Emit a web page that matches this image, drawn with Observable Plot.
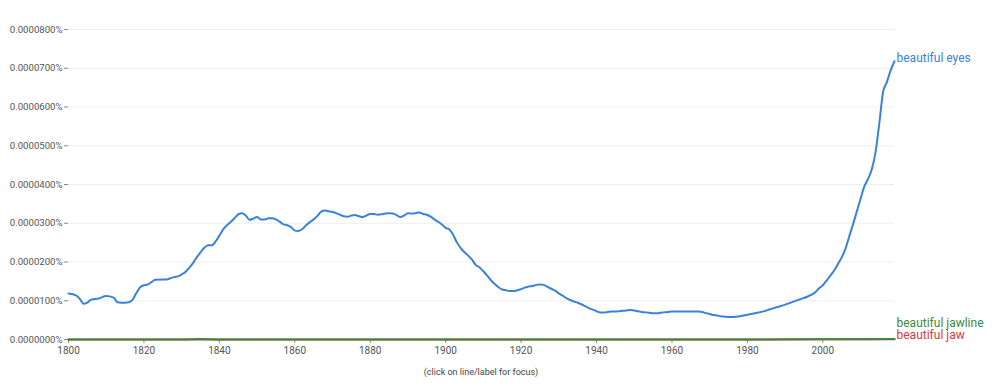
<!DOCTYPE html>
<html>
<head>
<meta charset="utf-8">
<script src="https://cdn.jsdelivr.net/npm/d3@7"></script>
<script src="https://cdn.jsdelivr.net/npm/@observablehq/plot@0.6"></script>
<style>
  html, body { margin: 0; padding: 0; background: #fff; }
  #chart { width: 1000px; }
  #caption { width: 962px; text-align: center; font: 9px Roboto, sans-serif; color: #444; line-height: 20px; }
</style>
</head>
<body>
<div id="chart"></div>
<div id="caption">(click on line/label for focus)</div>
<script>
// Series names
const seriesNames = ["beautiful eyes", "beautiful jawline", "beautiful jaw"];
const seriesColors = ["#3a82d8", "#3a8a3c", "#d93a3e"];

// beautiful eyes (values in %, unit 1e-5 %)
const eyesYears = [1800,1802,1803,1804,1805,1806,1808,1810,1812,1813,1814,1815,1816,1817,1818,1819,1820,1821,1822,1823,1825,1826,1827,1828,1829,1830,1831,1832,1833,1834,1835,1836,1837,1838,1839,1840,1841,1842,1843,1844,1845,1846,1847,1848,1849,1850,1851,1852,1853,1854,1855,1856,1857,1858,1859,1860,1861,1862,1863,1864,1865,1866,1867,1868,1869,1870,1871,1872,1873,1874,1875,1876,1877,1878,1879,1880,1881,1882,1883,1884,1885,1886,1887,1888,1889,1890,1891,1892,1893,1894,1895,1896,1897,1898,1899,1900,1901,1902,1903,1904,1905,1906,1907,1908,1909,1910,1911,1912,1913,1914,1915,1916,1917,1918,1919,1920,1921,1922,1923,1924,1925,1926,1927,1928,1929,1930,1931,1932,1933,1934,1935,1936,1937,1938,1939,1940,1941,1942,1943,1944,1945,1946,1947,1948,1949,1950,1951,1952,1953,1954,1955,1956,1957,1958,1959,1960,1961,1962,1963,1964,1965,1966,1967,1968,1969,1970,1971,1972,1973,1974,1975,1976,1977,1978,1979,1980,1982,1984,1986,1988,1990,1992,1994,1996,1998,1999,2000,2001,2002,2003,2004,2005,2006,2007,2008,2009,2010,2011,2012,2013,2014,2015,2016,2017,2018,2019];
const eyesValues = [1.19,1.14,1.05,0.92,0.95,1.03,1.06,1.12,1.08,0.96,0.95,0.95,0.96,1.03,1.20,1.35,1.40,1.42,1.48,1.54,1.55,1.55,1.58,1.61,1.63,1.68,1.74,1.85,1.97,2.12,2.25,2.37,2.43,2.43,2.53,2.68,2.84,2.95,3.03,3.13,3.23,3.26,3.20,3.09,3.12,3.16,3.10,3.10,3.13,3.13,3.10,3.04,2.97,2.95,2.90,2.81,2.80,2.85,2.95,3.03,3.10,3.19,3.30,3.33,3.31,3.29,3.26,3.22,3.18,3.17,3.20,3.21,3.18,3.16,3.20,3.24,3.24,3.22,3.23,3.25,3.26,3.25,3.21,3.16,3.20,3.26,3.25,3.26,3.28,3.24,3.22,3.17,3.10,3.04,2.97,2.88,2.84,2.70,2.50,2.36,2.25,2.16,2.06,1.92,1.86,1.76,1.65,1.53,1.43,1.35,1.29,1.27,1.25,1.25,1.27,1.30,1.34,1.37,1.38,1.41,1.42,1.41,1.36,1.31,1.26,1.19,1.13,1.07,1.02,0.98,0.95,0.91,0.86,0.81,0.77,0.73,0.70,0.70,0.71,0.72,0.72,0.73,0.74,0.75,0.76,0.75,0.73,0.71,0.70,0.69,0.68,0.68,0.69,0.70,0.71,0.72,0.72,0.72,0.72,0.72,0.72,0.72,0.72,0.71,0.68,0.66,0.63,0.62,0.60,0.59,0.58,0.58,0.59,0.60,0.62,0.64,0.68,0.72,0.78,0.84,0.90,0.97,1.04,1.11,1.22,1.32,1.40,1.52,1.65,1.78,1.95,2.12,2.34,2.66,2.97,3.30,3.63,3.95,4.15,4.40,4.85,5.60,6.40,6.65,6.95,7.18];

// beautiful jawline and beautiful jaw (near zero, unit 1e-5 %)
const jawlineYears = [1800,1850,1900,1950,2000,2010,2019];
const jawlineValues = [0.0,0.0,0.0,0.0,0.005,0.008,0.012];
const jawYears = [1800,1830,1835,1840,1900,1950,2000,2019];
const jawValues = [0.0,0.0,0.012,0.0,0.0,0.0,0.004,0.008];

// Axis ticks
const xTicks = [1800,1820,1840,1860,1880,1900,1920,1940,1960,1980,2000];
const yTicks = [0,1,2,3,4,5,6,7,8];

const unit = 1e-5;
const rows = [];
eyesYears.forEach((y, i) => rows.push({series: seriesNames[0], year: y, value: eyesValues[i] * unit}));
jawlineYears.forEach((y, i) => rows.push({series: seriesNames[1], year: y, value: jawlineValues[i] * unit}));
jawYears.forEach((y, i) => rows.push({series: seriesNames[2], year: y, value: jawValues[i] * unit}));

const lastOf = name => rows.filter(d => d.series === name).slice(-1)[0];
const labelDy = [-3, -16, -4];

const fmtY = v => v.toFixed(7) + "%";
const ff = "Roboto, sans-serif";

const chart = Plot.plot({
  width: 1000,
  height: 362,
  marginLeft: 68,
  marginRight: 106,
  marginTop: 29,
  marginBottom: 23,
  style: {fontFamily: ff, fontSize: "9.6px", color: "#555", background: "#fff"},
  x: {domain: [1800, 2019]},
  y: {domain: [0, 8e-5]},
  color: {domain: seriesNames, range: seriesColors},
  marks: [
    Plot.gridY(yTicks.map(t => t * unit), {stroke: "#eeeeee", strokeOpacity: 1, strokeWidth: 1}),
    Plot.axisY(yTicks.map(t => t * unit), {tickFormat: fmtY, tickSize: 4, tickPadding: 2, stroke: "#888", fill: "#555", fontSize: 9.6, label: null}),
    Plot.axisX(xTicks, {tickFormat: d => String(d), tickSize: 4, tickPadding: 3, stroke: "#888", fill: "#555", fontSize: 10, label: null}),
    Plot.ruleY([0], {stroke: "#999"}),
    Plot.line(rows.filter(d => d.series === seriesNames[2]), {x: "year", y: "value", stroke: seriesColors[2], strokeWidth: 2, curve: "monotone-x"}),
    Plot.line(rows.filter(d => d.series === seriesNames[1]), {x: "year", y: "value", stroke: seriesColors[1], strokeWidth: 2, curve: "monotone-x"}),
    Plot.line(rows.filter(d => d.series === seriesNames[0]), {x: "year", y: "value", stroke: seriesColors[0], strokeWidth: 2, curve: "monotone-x"}),
    ...seriesNames.map((n, i) => Plot.text([lastOf(n)], {x: "year", y: "value", text: d => d.series, fill: seriesColors[i], textAnchor: "start", dx: 2, dy: labelDy[i], fontSize: 12, fontFamily: ff}))
  ]
});
document.getElementById("chart").appendChild(chart);
</script>
</body>
</html>
